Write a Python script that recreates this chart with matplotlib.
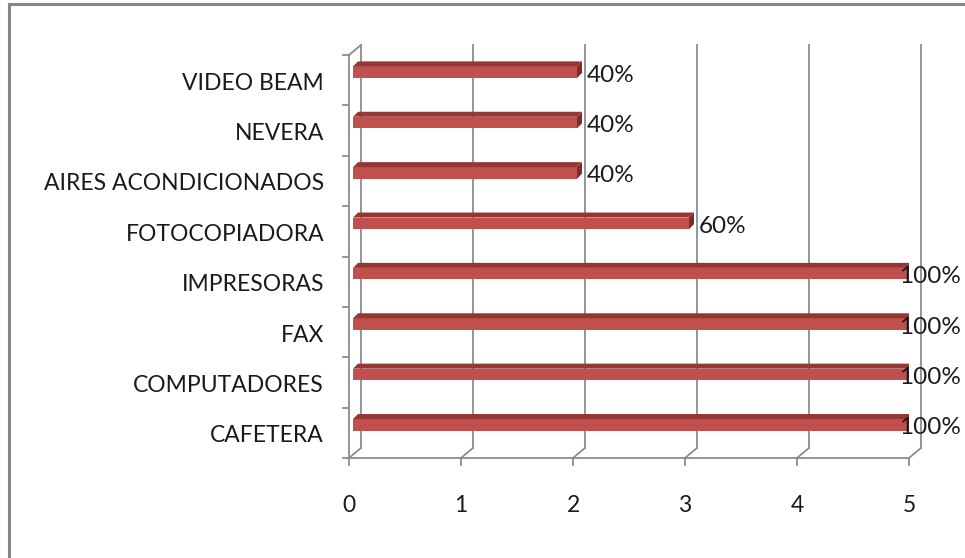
import matplotlib
matplotlib.use("Agg")
import matplotlib.pyplot as plt
import matplotlib.transforms as mtransforms
from matplotlib.patches import Polygon

categorias = ["CAFETERA", "COMPUTADORES", "FAX", "IMPRESORAS",
              "FOTOCOPIADORA", "AIRES ACONDICIONADOS", "NEVERA", "VIDEO BEAM"]
valores = [5, 5, 5, 5, 3, 2, 2, 2]
etiquetas = ["100%", "100%", "100%", "100%", "60%", "40%", "40%", "40%"]
ticks_x = [0, 1, 2, 3, 4, 5]

plt.rcParams["font.family"] = ["Lato", "DejaVu Sans"]

W, H = 965, 558
fig = plt.figure(figsize=(W / 100, H / 100), dpi=100)

# marco exterior (solo borde superior e izquierdo visibles)
fig.add_artist(plt.Line2D([9 / W, 9 / W], [0, 1 - 4 / H], color="#878787", lw=2.2, transform=fig.transFigure))
fig.add_artist(plt.Line2D([9 / W, 1], [1 - 4 / H, 1 - 4 / H], color="#878787", lw=2.2, transform=fig.transFigure))

# ejes frontales: 0..5 entre x=349 y x=909, categorias entre y=55 y y=458
x0, x1 = 349, 909
ytop, ybot = 55, 458
ax = fig.add_axes([x0 / W, (H - ybot) / H, (x1 - x0) / W, (ybot - ytop) / H])
n = len(categorias)
ax.set_xlim(0, 5)
ax.set_ylim(-0.5, n - 0.5)
ax.axis("off")

dx_px, dy_px = 12, 10  # profundidad de la pared del fondo
fondo = mtransforms.offset_copy(ax.transData, fig=fig, x=dx_px, y=dy_px, units="dots")
gris = "#8c8c8c"
texto = "#1a1a1a"

px_x = 5 / (x1 - x0)
px_y = n / (ybot - ytop)

# lineas de cuadricula en la pared del fondo y uniones con el eje frontal
for t in ticks_x:
    ax.plot([t, t], [-0.5, n - 0.5], color=gris, lw=1.3, transform=fondo, clip_on=False)
    ax.plot([t, t + dx_px * px_x], [-0.5, -0.5 + dy_px * px_y], color=gris, lw=1.3, clip_on=False)
    ax.plot([t, t], [-0.5, -0.5 - 7 * px_y], color=gris, lw=1.3, clip_on=False)
    ax.text(t, -0.5 - 48 * px_y, str(t), ha="center", va="center", fontsize=16.5, color=texto)

# ejes frontales
ax.plot([0, 5], [-0.5, -0.5], color=gris, lw=1.3, clip_on=False)
ax.plot([0, 0], [-0.5, n - 0.5], color=gris, lw=1.3, clip_on=False)
ax.plot([0, dx_px * px_x], [n - 0.5, n - 0.5 + dy_px * px_y], color=gris, lw=1.3, clip_on=False)
for k in range(n + 1):
    ax.plot([0, -6 * px_x], [k - 0.5, k - 0.5], color=gris, lw=1.3, clip_on=False)

# barras con cara frontal, superior y lateral
alto = 0.23
off_x, off_y = 4 * px_x, 8 * px_y
prof_x, prof_y = 5 * px_x, 5 * px_y
for i, (v, cat, lab) in enumerate(zip(valores, categorias, etiquetas)):
    yc = i + off_y
    ax.barh(yc, v, height=alto, left=off_x, color="#c0504d", edgecolor="none", zorder=3)
    ysup = yc + alto / 2
    ax.add_patch(Polygon([(off_x, ysup), (off_x + v, ysup), (off_x + v + prof_x, ysup + prof_y),
                          (off_x + prof_x, ysup + prof_y)], closed=True,
                         facecolor="#953735", edgecolor="none", zorder=3))
    ax.add_patch(Polygon([(off_x + v, ysup), (off_x + v + prof_x, ysup + prof_y),
                          (off_x + v + prof_x, ysup + prof_y - alto), (off_x + v, ysup - alto)],
                         closed=True, facecolor="#7f2c2a", edgecolor="none", zorder=3))
    ax.text(-25 * px_x, i - 0.06, cat, ha="right", va="center", fontsize=16.5, color=texto)
    desp = 10 if v < max(valores) else -14
    ax.annotate(lab, xy=(off_x + v, yc - 3 * px_y), xytext=(desp, 0), textcoords="offset pixels",
                ha="left", va="center", fontsize=17.5, color=texto, zorder=4,
                annotation_clip=False)

fig.savefig("out.png", dpi=100)
